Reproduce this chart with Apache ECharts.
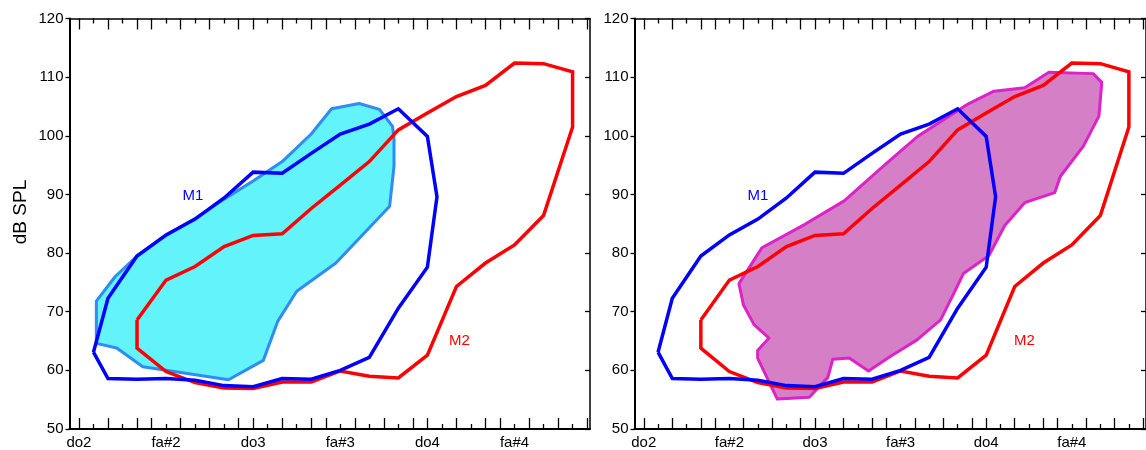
<!DOCTYPE html>
<html><head><meta charset="utf-8">
<script src="https://cdn.jsdelivr.net/npm/echarts@6/dist/echarts.min.js"></script>
<style>html,body{margin:0;padding:0;background:#fff}#c{width:1146px;height:450px}</style>
</head><body><div id="c"></div>
<script>
// x values are semitones above do2
const xMin = -0.65, xMax = 35.2;
const yMin = 50, yMax = 120, yStep = 10;
const noteTickValues = [0, 6, 12, 18, 24, 30];
const noteTickNames = ['do2', 'fa#2', 'do3', 'fa#3', 'do4', 'fa#4'];
const longTicks = [0, 2, 4, 5, 7, 9, 11, 12, 14, 16, 17, 19, 21, 23, 24, 26, 28, 29, 31, 33, 35];
const shortTicks = [1, 3, 6, 8, 10, 13, 15, 18, 20, 22, 25, 27, 30, 32, 34];

const m1Outline = [[1,63.1],[2,72.3],[4,79.5],[6,83.1],[8,85.8],[10,89.4],[12,93.8],[14,93.6],[16,97.0],[18,100.3],[20,102.0],[22,104.6],[24,99.9],[24.66,89.6],[24,77.6],[22,70.6],[20,62.2],[18,60.0],[16,58.5],[14,58.6],[12,57.2],[10,57.4],[8,58.3],[6,58.6],[4,58.5],[2,58.6],[1,63.1]];
const m2Outline = [[4,68.6],[6,75.4],[8,77.7],[10,81.1],[12,83.0],[14,83.3],[16,87.6],[18,91.6],[20,95.6],[22,101.0],[24,103.9],[26,106.7],[28,108.6],[30,112.4],[32,112.3],[34,110.9],[34,101.5],[32,86.4],[30,81.4],[28,78.3],[26,74.3],[24,62.6],[22,58.7],[20,59.0],[18,59.9],[16,58.0],[14,58.0],[12,56.9],[10,57.0],[8,57.9],[6,59.8],[4,63.8],[4,68.6]];
const m1Area = [[1.2,71.8],[2.5,76.0],[4,79.5],[6,83.0],[8,85.9],[10,89.2],[12,92.3],[14,95.6],[16,100.3],[17.4,104.6],[19.3,105.5],[20.7,104.5],[21.6,101.6],[21.7,99.6],[21.7,94.8],[21.4,88.0],[17.7,78.3],[15.0,73.5],[13.7,68.4],[12.7,61.7],[10.3,58.4],[4.4,60.6],[2.6,63.8],[1.2,64.6]];
const m2Area = [[6.67,74.8],[8.28,80.9],[11.3,84.9],[14.05,88.9],[17.05,95.4],[19.2,99.9],[22.75,105.45],[24.55,107.6],[26.7,108.2],[28.4,110.85],[31.5,110.6],[32.1,109.1],[31.9,103.35],[30.8,98.2],[29.2,93.1],[28.8,90.3],[26.7,88.6],[25.3,84.7],[24.2,79.6],[22.4,76.5],[21.66,72.8],[20.8,68.6],[19.15,65.2],[17.3,62.4],[15.75,59.9],[14.4,62.1],[13.25,61.9],[12.9,58.8],[11.6,55.4],[9.36,55.1],[7.98,62.1],[7.98,63.4],[8.78,65.5],[7.73,67.8],[6.98,71.2]];

const FONT = '"Liberation Sans", Arial, sans-serif';
const grids = [
  {left: 69.5, top: 18.5, width: 520.5, height: 411},
  {left: 634.5, top: 18.5, width: 520.5, height: 411}
];

function xAx(g, pos, ticks, len, showLine, showLabel) {
  return {
    type: 'value', gridIndex: g, position: pos, min: xMin, max: xMax,
    axisLine: {show: showLine, onZero: false, lineStyle: {color: '#000', width: pos === 'bottom' ? 2 : 1.5}},
    axisTick: {show: true, inside: true, length: len, customValues: ticks, lineStyle: {color: '#000', width: 1.3}},
    axisLabel: showLabel ? {show: true, customValues: noteTickValues, formatter: v => noteTickNames[noteTickValues.indexOf(v)] || '', fontSize: 15, color: '#000', margin: 6, fontFamily: FONT} : {show: false},
    splitLine: {show: false}
  };
}
function yAx(g, pos) {
  const left = pos === 'left';
  return {
    type: 'value', gridIndex: g, position: pos, min: yMin, max: yMax, interval: yStep,
    axisLine: {show: true, onZero: false, lineStyle: {color: '#000', width: left ? 2 : 1.5}},
    axisTick: {show: true, inside: !left, length: left ? 4 : 5, lineStyle: {color: '#000', width: 1.3}},
    axisLabel: left ? {show: true, fontSize: 15, color: '#000', margin: 6, fontFamily: FONT} : {show: false},
    splitLine: {show: false}
  };
}
const xAxes = [], yAxes = [];
for (let g = 0; g < 2; g++) {
  xAxes.push(xAx(g, 'bottom', longTicks, 11, true, true));
  xAxes.push(xAx(g, 'bottom', shortTicks, 5, false, false));
  xAxes.push(xAx(g, 'top', longTicks, 11, true, false));
  xAxes.push(xAx(g, 'top', shortTicks, 5, false, false));
  yAxes.push(yAx(g, 'left'));
  yAxes.push(yAx(g, 'right'));
}

function areaSeries(g, pts, fill, stroke, z) {
  return {
    type: 'custom', coordinateSystem: 'cartesian2d', xAxisIndex: g * 4, yAxisIndex: g * 2, z: z,
    data: pts, silent: true,
    renderItem: function (params, api) {
      if (params.dataIndex !== 0) return null;
      return {type: 'polygon', shape: {points: pts.map(p => api.coord(p))},
        style: {fill: fill, stroke: stroke, lineWidth: 3, lineJoin: 'round'}};
    }
  };
}
function outlineSeries(g, pts, color, z) {
  return {
    type: 'line', xAxisIndex: g * 4, yAxisIndex: g * 2, z: z, data: pts,
    showSymbol: false, symbol: 'none', smooth: false, silent: true,
    lineStyle: {color: color, width: 3.5, join: 'miter'}
  };
}

const chart = echarts.init(document.getElementById('c'), null, {renderer: 'canvas'});
chart.setOption({
  animation: false,
  backgroundColor: '#fff',
  grid: grids,
  xAxis: xAxes,
  yAxis: yAxes,
  series: [
    areaSeries(0, m1Area, '#63F3FB', '#2E8CF2', 2),
    outlineSeries(0, m2Outline, '#FF0000', 3),
    outlineSeries(0, m1Outline, '#0000FF', 4),
    areaSeries(1, m2Area, '#D580C6', '#DC22C8', 2),
    outlineSeries(1, m2Outline, '#FF0000', 3),
    outlineSeries(1, m1Outline, '#0000FF', 4)
  ],
  graphic: [
    {type: 'text', x: 21, y: 212, rotation: Math.PI / 2,
      style: {text: 'dB SPL', fill: '#000', font: '19px ' + FONT, align: 'center', verticalAlign: 'middle', textAlign: 'center', textVerticalAlign: 'middle'}},
    {type: 'text', x: 193, y: 196, style: {text: 'M1', fill: '#0000FF', font: '15px ' + FONT, align: 'center', verticalAlign: 'middle', textAlign: 'center', textVerticalAlign: 'middle'}},
    {type: 'text', x: 459.5, y: 341, style: {text: 'M2', fill: '#FF0000', font: '15px ' + FONT, align: 'center', verticalAlign: 'middle', textAlign: 'center', textVerticalAlign: 'middle'}},
    {type: 'text', x: 758, y: 196, style: {text: 'M1', fill: '#0000FF', font: '15px ' + FONT, align: 'center', verticalAlign: 'middle', textAlign: 'center', textVerticalAlign: 'middle'}},
    {type: 'text', x: 1024.5, y: 341, style: {text: 'M2', fill: '#FF0000', font: '15px ' + FONT, align: 'center', verticalAlign: 'middle', textAlign: 'center', textVerticalAlign: 'middle'}}
  ]
});
</script></body></html>
